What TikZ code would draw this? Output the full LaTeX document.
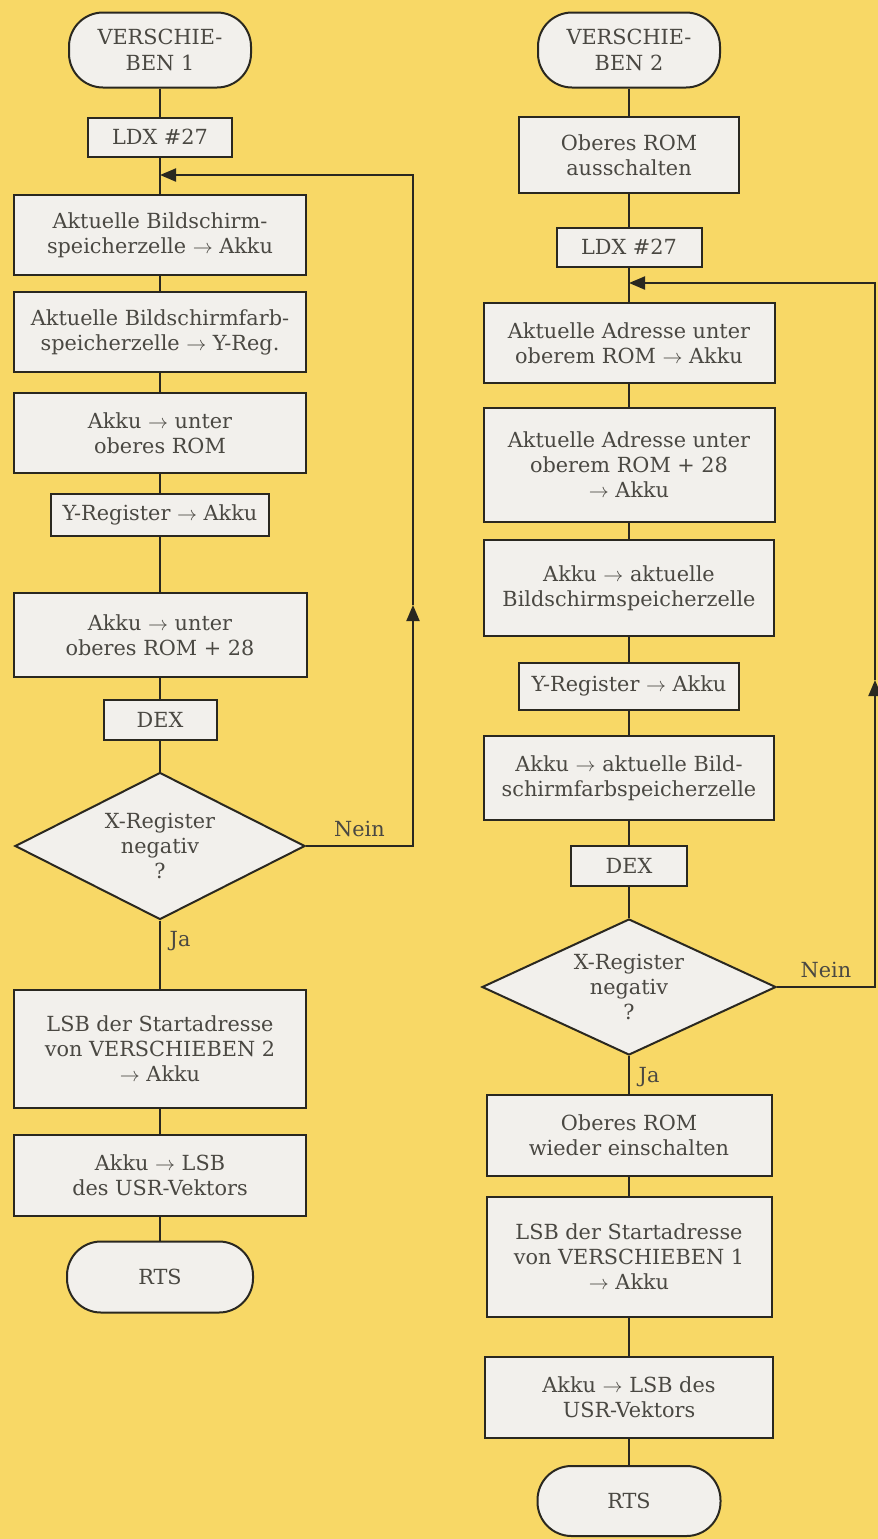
\documentclass[tikz,border=0pt]{standalone}
\usepackage{fontspec}
\setmainfont{DejaVu Serif}
\usetikzlibrary{shapes.geometric,arrows.meta}
\definecolor{bgyellow}{HTML}{F8D866}
\definecolor{boxfill}{HTML}{F2F0EC}
\definecolor{ink}{HTML}{2A2820}
\begin{document}
\begin{tikzpicture}[x=0.5pt,y=-0.5pt]

      \tikzset{every node/.style={font=\fontsize{10.4}{12.6}\selectfont, text=ink!85},
               proc/.style={draw=ink, fill=boxfill, line width=1pt, align=center, inner sep=1pt},
               term/.style={proc, rounded corners=17pt},
               decide/.style={proc, diamond, aspect=2, inner sep=0pt},
               link/.style={draw=ink, line width=1pt},
               loopy/.style={link, -{Triangle[length=8pt,width=6.5pt]}}}
      \fill[bgyellow] (0,0) rectangle (878,1539);
      \useasboundingbox (0,0) rectangle (878,1539);
% Left column
      	\node[term, minimum width=91pt, minimum height=37.5pt] (s1) at (160,50) {VERSCHIE-\\BEN 1};
      	\node[proc, minimum width=72pt, minimum height=19.5pt] (l1) at (160,137) {LDX \#27};
      	\coordinate (m1) at (160,175);
      	\node[proc, minimum width=146pt, minimum height=40pt] (a1) at (160,235) {Aktuelle Bildschirm-\\speicherzelle $\to$ Akku};
      	\node[proc, minimum width=146pt, minimum height=40pt] (a2) at (160,332) {Aktuelle Bildschirmfarb-\\speicherzelle $\to$ Y-Reg.};
      	\node[proc, minimum width=146pt, minimum height=40pt] (a3) at (160,433) {Akku $\to$ unter\\oberes ROM};
      	\node[proc, minimum width=109pt, minimum height=21pt] (a4) at (160,515) {Y-Register $\to$ Akku};
      	\node[proc, minimum width=146.5pt, minimum height=42pt] (a5) at (160,635) {Akku $\to$ unter\\oberes ROM + 28};
      	\node[proc, minimum width=56.5pt, minimum height=20pt] (d1) at (160,720) {DEX};
      	\node[decide, minimum width=145pt, minimum height=73.5pt] (q1) at (160,846) {X-Register\\negativ\\?};
      	\node[proc, minimum width=146pt, minimum height=59pt] (a6) at (160,1049) {LSB der Startadresse\\von VERSCHIEBEN 2\\$\to$ Akku};
      	\node[proc, minimum width=146pt, minimum height=40.5pt] (a7) at (160,1175) {Akku $\to$ LSB\\des USR-Vektors};
      	\node[term, minimum width=93pt, minimum height=35.5pt] (e1) at (160,1277) {RTS};
      	\coordinate (r1) at (413,605);
% Right column
      	\node[term, minimum width=91pt, minimum height=37.5pt] (s2) at (629,50) {VERSCHIE-\\BEN 2};
      	\node[proc, minimum width=110pt, minimum height=38pt] (b1) at (629,155) {Oberes ROM\\ausschalten};
      	\node[proc, minimum width=72.5pt, minimum height=19.5pt] (l2) at (629,247) {LDX \#27};
      	\coordinate (m2) at (629,283);
      	\node[proc, minimum width=145.5pt, minimum height=40pt] (b2) at (629,343) {Aktuelle Adresse unter\\oberem ROM $\to$ Akku};
      	\node[proc, minimum width=145.5pt, minimum height=57pt] (b3) at (629,465) {Aktuelle Adresse unter\\oberem ROM + 28\\$\to$ Akku};
      	\node[proc, minimum width=145pt, minimum height=48pt] (b4) at (629,588) {Akku $\to$ aktuelle\\Bildschirmspeicherzelle};
      	\node[proc, minimum width=110pt, minimum height=23.5pt] (b5) at (629,686) {Y-Register $\to$ Akku};
      	\node[proc, minimum width=145pt, minimum height=42pt] (b6) at (629,778) {Akku $\to$ aktuelle Bild-\\schirmfarbspeicherzelle};
      	\node[proc, minimum width=58pt, minimum height=20pt] (d2) at (629,866) {DEX};
      	\node[decide, minimum width=147pt, minimum height=68pt] (q2) at (629,987) {X-Register\\negativ\\?};
      	\node[proc, minimum width=142.5pt, minimum height=40.5pt] (b7) at (629,1135) {Oberes ROM\\wieder einschalten};
      	\node[proc, minimum width=142.5pt, minimum height=60pt] (b8) at (629,1257) {LSB der Startadresse\\von VERSCHIEBEN 1\\$\to$ Akku};
      	\node[proc, minimum width=144pt, minimum height=40.5pt] (b9) at (629,1397) {Akku $\to$ LSB des\\USR-Vektors};
      	\node[term, minimum width=91.5pt, minimum height=35pt] (e2) at (629,1501) {RTS};
      	\coordinate (r2) at (875,680);
%Edges
		\path[link] (s1) -- (l1) -- (a1) -- (a2) -- (a3) -- (a4) -- (a5) -- (d1) -- (q1) -- (a6) -- (a7) -- (e1);
		\path[link] (q1.south) -- node[pos=0.3, right=1pt] {Ja} (a6.north);
		\path[loopy] (q1.east) -| node[pos=0.25, above=1pt] {Nein} (r1);
		\path[loopy] (r1) |- (m1);
		\path[link] (s2) -- (b1) -- (l2) -- (b2) -- (b3) -- (b4) -- (b5) -- (b6) -- (d2) -- (q2) -- (b7) -- (b8) -- (b9) -- (e2);
		\path[link] (q2.south) -- node[pos=0.55, right=1pt] {Ja} (b7.north);
		\path[loopy] (q2.east) -| node[pos=0.25, above=1pt] {Nein} (r2);
		\path[loopy] (r2) |- (m2);

	\end{tikzpicture}
\end{document}
